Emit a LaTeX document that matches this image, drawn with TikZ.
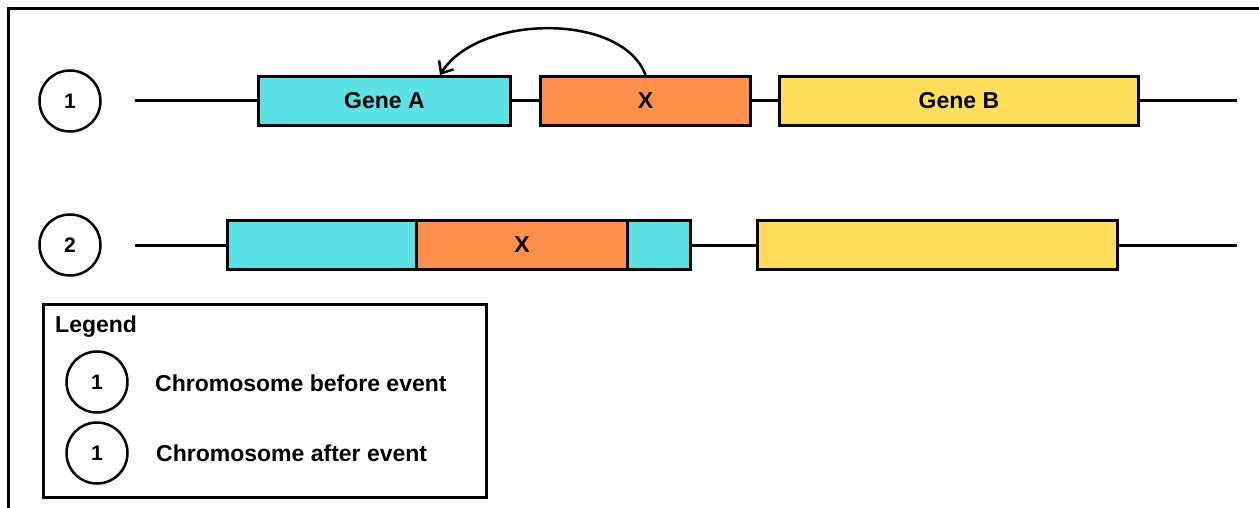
\documentclass[tikz,border=0pt]{standalone}
\usepackage{fontspec}
\setmainfont{Liberation Sans}
\usetikzlibrary{arrows.meta,calc}
\definecolor{genea}{HTML}{5CE1E6}
\definecolor{genex}{HTML}{FF914D}
\definecolor{geneb}{HTML}{FFDE59}
\tikzset{
  genebox/.style={draw=black, line width=3pt, minimum height=49pt, inner sep=0pt, anchor=west,
    font=\bfseries\fontsize{23}{27}\selectfont},
  numcirc/.style={circle, draw=black, line width=2.5pt, minimum size=61pt, inner sep=0pt,
    font=\bfseries\fontsize{21}{25}\selectfont},
  chrom/.style={line width=3pt},
  legtext/.style={anchor=west, inner sep=0pt, font=\bfseries\fontsize{23}{27}\selectfont}
}
\begin{document}
\begin{tikzpicture}[x=1pt,y=-1pt]
\useasboundingbox (0,0) rectangle (1259,508);
% frame
\draw[line width=3pt] (8,508) -- (8,9) -- (1259,9);
% row 1
\node[numcirc] (n1) at (70,101) {1};
\coordinate (s1) at (135,101);
\coordinate (e1) at (1237,101);
\node[genebox, fill=genea, minimum width=252pt] (ga) at (257,101) {Gene A};
\node[genebox, fill=genex, minimum width=210pt] (gx) at (539,101) {X};
\node[genebox, fill=geneb, minimum width=359pt] (gb) at (778,101) {Gene B};
\draw[chrom] (s1) -- (ga.west);
\draw[chrom] (ga.east) -- (gx.west);
\draw[chrom] (gx.east) -- (gb.west);
\draw[chrom] (gb.east) -- (e1);
\coordinate (aend) at ($(ga.north east)+(-72,0)$);
\draw[line width=2.5pt, -{Straight Barb[length=10pt,width=17pt]}] (gx.north) .. controls (622,12) and (478,14) .. (aend);
% row 2
\node[numcirc] (n2) at (70,245) {2};
\coordinate (s2) at (135,245);
\coordinate (e2) at (1237,245);
\node[genebox, fill=genea, minimum width=189pt] (c1) at (226,245) {};
\node[genebox, fill=genex, minimum width=211pt] (x2) at (415,245) {X};
\node[genebox, fill=genea, minimum width=63pt] (c2) at (626,245) {};
\node[genebox, fill=geneb, minimum width=360pt] (b2) at (756,245) {};
\draw[chrom] (s2) -- (c1.west);
\draw[chrom] (c2.east) -- (b2.west);
\draw[chrom] (b2.east) -- (e2);
% legend
\node[draw=black, line width=3pt, minimum width=443pt, minimum height=193pt, inner sep=0pt] (leg) at (264.5,400.5) {};
\node[legtext] (legt) at (55,327) {Legend};
\node[numcirc] (l1) at (97,382) {1};
\node[legtext] (l1t) at (155,383) {Chromosome before event};
\node[numcirc] (l2) at (97,453) {1};
\node[legtext] (l2t) at (156,453) {Chromosome after event};
\end{tikzpicture}
\end{document}
